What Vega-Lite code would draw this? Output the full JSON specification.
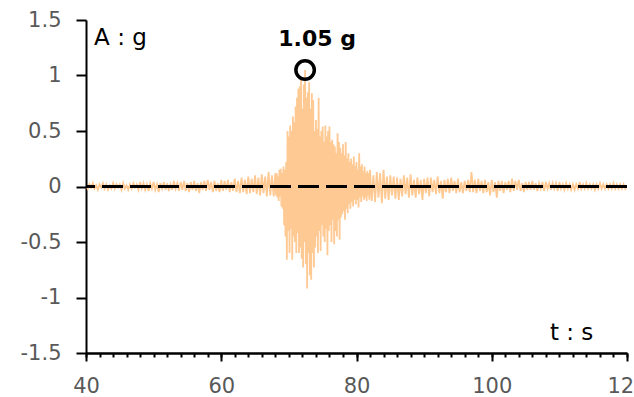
{
  "$schema": "https://vega.github.io/schema/vega-lite/v6.json",
  "width": 541,
  "height": 333,
  "autosize": {"type": "none"},
  "padding": {"left": 86, "top": 20, "right": 7, "bottom": 44},
  "background": "white",
  "config": {
    "view": {"stroke": null},
    "font": "DejaVu Sans",
    "axis": {
      "grid": false,
      "domainColor": "black",
      "domainWidth": 2,
      "tickColor": "black",
      "tickWidth": 2,
      "labelColor": "#595959",
      "labelFont": "DejaVu Sans",
      "labelFontSize": 21,
      "labelOverlap": false
    }
  },
  "resolve": {"axis": {"x": "independent"}},
  "datasets": {
    "accel": [
      {"t": 40, "a": 0.01}, {"t": 40.25, "a": -0.02}, {"t": 40.5, "a": 0.02}, {"t": 40.75, "a": -0.01},
      {"t": 41, "a": 0.03}, {"t": 41.25, "a": -0.02}, {"t": 41.5, "a": 0.01}, {"t": 41.75, "a": -0.03},
      {"t": 42, "a": 0.02}, {"t": 42.25, "a": -0.01}, {"t": 42.5, "a": 0.03}, {"t": 42.75, "a": -0.02},
      {"t": 43, "a": 0.02}, {"t": 43.25, "a": -0.03}, {"t": 43.5, "a": 0.01}, {"t": 43.75, "a": -0.02},
      {"t": 44, "a": 0.03}, {"t": 44.25, "a": -0.02}, {"t": 44.5, "a": 0.02}, {"t": 44.75, "a": -0.01},
      {"t": 45, "a": 0.02}, {"t": 45.25, "a": -0.03}, {"t": 45.5, "a": 0.03}, {"t": 45.75, "a": -0.02},
      {"t": 46, "a": 0.01}, {"t": 46.25, "a": -0.03}, {"t": 46.5, "a": 0.02}, {"t": 46.75, "a": -0.02},
      {"t": 47, "a": 0.03}, {"t": 47.25, "a": -0.01}, {"t": 47.5, "a": 0.02}, {"t": 47.75, "a": -0.03},
      {"t": 48, "a": 0.04}, {"t": 48.25, "a": -0.02}, {"t": 48.5, "a": 0.03}, {"t": 48.75, "a": -0.03},
      {"t": 49, "a": 0.02}, {"t": 49.25, "a": -0.04}, {"t": 49.5, "a": 0.03}, {"t": 49.75, "a": -0.02},
      {"t": 50, "a": 0.04}, {"t": 50.25, "a": -0.03}, {"t": 50.5, "a": 0.02}, {"t": 50.75, "a": -0.05},
      {"t": 51, "a": 0.03}, {"t": 51.25, "a": -0.02}, {"t": 51.5, "a": 0.04}, {"t": 51.75, "a": -0.03},
      {"t": 52, "a": 0.03}, {"t": 52.25, "a": -0.04}, {"t": 52.5, "a": 0.02}, {"t": 52.75, "a": -0.03},
      {"t": 53, "a": 0.05}, {"t": 53.25, "a": -0.02}, {"t": 53.5, "a": 0.03}, {"t": 53.75, "a": -0.04},
      {"t": 54, "a": 0.04}, {"t": 54.25, "a": -0.03}, {"t": 54.5, "a": 0.05}, {"t": 54.75, "a": -0.04},
      {"t": 55, "a": 0.03}, {"t": 55.25, "a": -0.05}, {"t": 55.5, "a": 0.04}, {"t": 55.75, "a": -0.03},
      {"t": 56, "a": 0.05}, {"t": 56.25, "a": -0.04}, {"t": 56.5, "a": 0.03}, {"t": 56.75, "a": -0.06},
      {"t": 57, "a": 0.04}, {"t": 57.25, "a": -0.03}, {"t": 57.5, "a": 0.05}, {"t": 57.75, "a": -0.04},
      {"t": 58, "a": 0.06}, {"t": 58.25, "a": -0.03}, {"t": 58.5, "a": 0.04}, {"t": 58.75, "a": -0.05},
      {"t": 59, "a": 0.05}, {"t": 59.25, "a": -0.04}, {"t": 59.5, "a": 0.03}, {"t": 59.75, "a": -0.05},
      {"t": 60, "a": 0.06}, {"t": 60.25, "a": -0.04}, {"t": 60.5, "a": 0.05}, {"t": 60.75, "a": -0.03},
      {"t": 61, "a": 0.06}, {"t": 61.25, "a": -0.05}, {"t": 61.5, "a": 0.04}, {"t": 61.75, "a": -0.04},
      {"t": 62, "a": 0.07}, {"t": 62.25, "a": -0.05}, {"t": 62.5, "a": 0.05}, {"t": 62.75, "a": -0.06},
      {"t": 63, "a": 0.08}, {"t": 63.25, "a": -0.05}, {"t": 63.5, "a": 0.06}, {"t": 63.75, "a": -0.07},
      {"t": 64, "a": 0.09}, {"t": 64.25, "a": -0.06}, {"t": 64.5, "a": 0.07}, {"t": 64.75, "a": -0.05},
      {"t": 65, "a": 0.1}, {"t": 65.25, "a": -0.07}, {"t": 65.5, "a": 0.08}, {"t": 65.75, "a": -0.08},
      {"t": 66, "a": 0.11}, {"t": 66.25, "a": -0.06}, {"t": 66.5, "a": 0.09}, {"t": 66.75, "a": -0.09},
      {"t": 67, "a": 0.13}, {"t": 67.25, "a": -0.08}, {"t": 67.5, "a": 0.1}, {"t": 67.75, "a": -0.09},
      {"t": 68, "a": 0.12}, {"t": 68.1, "a": -0.08}, {"t": 68.2, "a": 0.12}, {"t": 68.3, "a": -0.1},
      {"t": 68.4, "a": 0.09}, {"t": 68.5, "a": -0.13}, {"t": 68.6, "a": 0.15}, {"t": 68.7, "a": -0.09},
      {"t": 68.8, "a": 0.16}, {"t": 68.9, "a": -0.18}, {"t": 69, "a": 0.12}, {"t": 69.1, "a": -0.2},
      {"t": 69.2, "a": 0.18}, {"t": 69.3, "a": -0.35}, {"t": 69.4, "a": 0.15}, {"t": 69.5, "a": -0.45},
      {"t": 69.6, "a": 0.22}, {"t": 69.7, "a": -0.66}, {"t": 69.8, "a": 0.5}, {"t": 69.9, "a": -0.4},
      {"t": 70, "a": 0.45}, {"t": 70.1, "a": -0.6}, {"t": 70.2, "a": 0.55}, {"t": 70.3, "a": -0.38},
      {"t": 70.4, "a": 0.5}, {"t": 70.5, "a": -0.66}, {"t": 70.6, "a": 0.63}, {"t": 70.7, "a": -0.45},
      {"t": 70.8, "a": 0.58}, {"t": 70.9, "a": -0.5}, {"t": 71, "a": 0.72}, {"t": 71.1, "a": -0.6},
      {"t": 71.2, "a": 0.8}, {"t": 71.3, "a": -0.42}, {"t": 71.4, "a": 0.88}, {"t": 71.5, "a": -0.6},
      {"t": 71.6, "a": 0.9}, {"t": 71.7, "a": -0.55}, {"t": 71.8, "a": 0.96}, {"t": 71.9, "a": -0.65},
      {"t": 72, "a": 0.7}, {"t": 72.1, "a": -0.73}, {"t": 72.2, "a": 0.92}, {"t": 72.3, "a": -0.5},
      {"t": 72.4, "a": 1.05}, {"t": 72.5, "a": -0.7}, {"t": 72.6, "a": 0.8}, {"t": 72.7, "a": -0.92},
      {"t": 72.8, "a": 0.85}, {"t": 72.9, "a": -0.6}, {"t": 73, "a": 0.94}, {"t": 73.1, "a": -0.8},
      {"t": 73.2, "a": 0.7}, {"t": 73.3, "a": -0.84}, {"t": 73.4, "a": 0.84}, {"t": 73.5, "a": -0.6},
      {"t": 73.6, "a": 0.78}, {"t": 73.7, "a": -0.73}, {"t": 73.8, "a": 0.5}, {"t": 73.9, "a": -0.55},
      {"t": 74, "a": 0.6}, {"t": 74.1, "a": -0.45}, {"t": 74.2, "a": 0.52}, {"t": 74.3, "a": -0.6},
      {"t": 74.4, "a": 0.8}, {"t": 74.5, "a": -0.4}, {"t": 74.6, "a": 0.45}, {"t": 74.7, "a": -0.58},
      {"t": 74.8, "a": 0.5}, {"t": 74.9, "a": -0.35}, {"t": 75, "a": 0.54}, {"t": 75.1, "a": -0.45},
      {"t": 75.2, "a": 0.4}, {"t": 75.3, "a": -0.5}, {"t": 75.4, "a": 0.55}, {"t": 75.5, "a": -0.38},
      {"t": 75.6, "a": 0.45}, {"t": 75.7, "a": -0.62}, {"t": 75.8, "a": 0.5}, {"t": 75.9, "a": -0.4},
      {"t": 76, "a": 0.54}, {"t": 76.1, "a": -0.35}, {"t": 76.2, "a": 0.4}, {"t": 76.3, "a": -0.5},
      {"t": 76.4, "a": 0.42}, {"t": 76.5, "a": -0.3}, {"t": 76.6, "a": 0.38}, {"t": 76.7, "a": -0.52},
      {"t": 76.8, "a": 0.36}, {"t": 76.9, "a": -0.4}, {"t": 77, "a": 0.3}, {"t": 77.1, "a": -0.45},
      {"t": 77.2, "a": 0.48}, {"t": 77.3, "a": -0.3}, {"t": 77.4, "a": 0.4}, {"t": 77.5, "a": -0.48},
      {"t": 77.6, "a": 0.35}, {"t": 77.7, "a": -0.28}, {"t": 77.8, "a": 0.3}, {"t": 77.9, "a": -0.25},
      {"t": 78, "a": 0.38}, {"t": 78.1, "a": -0.22}, {"t": 78.2, "a": 0.28}, {"t": 78.3, "a": -0.3},
      {"t": 78.4, "a": 0.4}, {"t": 78.5, "a": -0.2}, {"t": 78.6, "a": 0.25}, {"t": 78.7, "a": -0.24},
      {"t": 78.8, "a": 0.3}, {"t": 78.9, "a": -0.16}, {"t": 79, "a": 0.22}, {"t": 79.1, "a": -0.2},
      {"t": 79.2, "a": 0.25}, {"t": 79.3, "a": -0.14}, {"t": 79.4, "a": 0.2}, {"t": 79.5, "a": -0.18},
      {"t": 79.6, "a": 0.27}, {"t": 79.7, "a": -0.12}, {"t": 79.8, "a": 0.18}, {"t": 79.9, "a": -0.16},
      {"t": 80, "a": 0.22}, {"t": 80.1, "a": -0.12}, {"t": 80.2, "a": 0.15}, {"t": 80.3, "a": -0.19},
      {"t": 80.4, "a": 0.3}, {"t": 80.5, "a": -0.1}, {"t": 80.6, "a": 0.18}, {"t": 80.7, "a": -0.14},
      {"t": 80.8, "a": 0.2}, {"t": 80.9, "a": -0.09}, {"t": 81, "a": 0.14}, {"t": 81.1, "a": -0.12},
      {"t": 81.2, "a": 0.18}, {"t": 81.3, "a": -0.1}, {"t": 81.4, "a": 0.12}, {"t": 81.5, "a": -0.13},
      {"t": 81.6, "a": 0.14}, {"t": 81.7, "a": -0.08}, {"t": 81.8, "a": 0.12}, {"t": 81.9, "a": -0.12},
      {"t": 82, "a": 0.15},
      {"t": 82.25, "a": -0.13}, {"t": 82.5, "a": 0.1}, {"t": 82.75, "a": -0.14}, {"t": 83, "a": 0.13},
      {"t": 83.25, "a": -0.1}, {"t": 83.5, "a": 0.12}, {"t": 83.75, "a": -0.15}, {"t": 84, "a": 0.15},
      {"t": 84.25, "a": -0.11}, {"t": 84.5, "a": 0.09}, {"t": 84.75, "a": -0.12}, {"t": 85, "a": 0.1},
      {"t": 85.25, "a": -0.08}, {"t": 85.5, "a": 0.09}, {"t": 85.75, "a": -0.11}, {"t": 86, "a": 0.08},
      {"t": 86.25, "a": -0.12}, {"t": 86.5, "a": 0.07}, {"t": 86.75, "a": -0.09}, {"t": 87, "a": 0.1},
      {"t": 87.25, "a": -0.07}, {"t": 87.5, "a": 0.08}, {"t": 87.75, "a": -0.1}, {"t": 88, "a": 0.11},
      {"t": 88.25, "a": -0.08}, {"t": 88.5, "a": 0.06}, {"t": 88.75, "a": -0.1}, {"t": 89, "a": 0.08},
      {"t": 89.25, "a": -0.07}, {"t": 89.5, "a": 0.06}, {"t": 89.75, "a": -0.12}, {"t": 90, "a": 0.07},
      {"t": 90.25, "a": -0.06}, {"t": 90.5, "a": 0.08}, {"t": 90.75, "a": -0.09}, {"t": 91, "a": 0.08},
      {"t": 91.25, "a": -0.05}, {"t": 91.5, "a": 0.06}, {"t": 91.75, "a": -0.07}, {"t": 92, "a": 0.09},
      {"t": 92.25, "a": -0.06}, {"t": 92.5, "a": 0.05}, {"t": 92.75, "a": -0.11}, {"t": 93, "a": 0.06},
      {"t": 93.25, "a": -0.05}, {"t": 93.5, "a": 0.07}, {"t": 93.75, "a": -0.06}, {"t": 94, "a": 0.08},
      {"t": 94.25, "a": -0.04}, {"t": 94.5, "a": 0.05}, {"t": 94.75, "a": -0.06}, {"t": 95, "a": 0.07},
      {"t": 95.25, "a": -0.05}, {"t": 95.5, "a": 0.04}, {"t": 95.75, "a": -0.06}, {"t": 96, "a": 0.05},
      {"t": 96.25, "a": -0.04}, {"t": 96.5, "a": 0.06}, {"t": 96.75, "a": -0.05}, {"t": 97, "a": 0.13},
      {"t": 97.25, "a": -0.05}, {"t": 97.5, "a": 0.06}, {"t": 97.75, "a": -0.06}, {"t": 98, "a": 0.07},
      {"t": 98.25, "a": -0.04}, {"t": 98.5, "a": 0.05}, {"t": 98.75, "a": -0.06}, {"t": 99, "a": 0.06},
      {"t": 99.25, "a": -0.05}, {"t": 99.5, "a": 0.04}, {"t": 99.75, "a": -0.08}, {"t": 100, "a": 0.06},
      {"t": 100.25, "a": -0.05}, {"t": 100.5, "a": 0.04}, {"t": 100.75, "a": -0.1}, {"t": 101, "a": 0.05},
      {"t": 101.25, "a": -0.04}, {"t": 101.5, "a": 0.05}, {"t": 101.75, "a": -0.06}, {"t": 102, "a": 0.04},
      {"t": 102.25, "a": -0.03}, {"t": 102.5, "a": 0.05}, {"t": 102.75, "a": -0.05}, {"t": 103, "a": 0.07},
      {"t": 103.25, "a": -0.04}, {"t": 103.5, "a": 0.05}, {"t": 103.75, "a": -0.03}, {"t": 104, "a": 0.06},
      {"t": 104.25, "a": -0.04}, {"t": 104.5, "a": 0.03}, {"t": 104.75, "a": -0.05}, {"t": 105, "a": 0.04},
      {"t": 105.25, "a": -0.03}, {"t": 105.5, "a": 0.04}, {"t": 105.75, "a": -0.03}, {"t": 106, "a": 0.05},
      {"t": 106.25, "a": -0.03}, {"t": 106.5, "a": 0.03}, {"t": 106.75, "a": -0.04}, {"t": 107, "a": 0.03},
      {"t": 107.25, "a": -0.02}, {"t": 107.5, "a": 0.04}, {"t": 107.75, "a": -0.04}, {"t": 108, "a": 0.04},
      {"t": 108.25, "a": -0.02}, {"t": 108.5, "a": 0.03}, {"t": 108.75, "a": -0.03}, {"t": 109, "a": 0.03},
      {"t": 109.25, "a": -0.02}, {"t": 109.5, "a": 0.03}, {"t": 109.75, "a": -0.04}, {"t": 110, "a": 0.04},
      {"t": 110.25, "a": -0.02}, {"t": 110.5, "a": 0.02}, {"t": 110.75, "a": -0.03}, {"t": 111, "a": 0.03},
      {"t": 111.25, "a": -0.02}, {"t": 111.5, "a": 0.02}, {"t": 111.75, "a": -0.03}, {"t": 112, "a": 0.02},
      {"t": 112.25, "a": -0.03}, {"t": 112.5, "a": 0.02}, {"t": 112.75, "a": -0.02}, {"t": 113, "a": 0.04},
      {"t": 113.25, "a": -0.02}, {"t": 113.5, "a": 0.02}, {"t": 113.75, "a": -0.02}, {"t": 114, "a": 0.03},
      {"t": 114.25, "a": -0.02}, {"t": 114.5, "a": 0.02}, {"t": 114.75, "a": -0.02}, {"t": 115, "a": 0.02},
      {"t": 115.25, "a": -0.03}, {"t": 115.5, "a": 0.02}, {"t": 115.75, "a": -0.02}, {"t": 116, "a": 0.03},
      {"t": 116.25, "a": -0.02}, {"t": 116.5, "a": 0.02}, {"t": 116.75, "a": -0.02}, {"t": 117, "a": 0.02},
      {"t": 117.25, "a": -0.02}, {"t": 117.5, "a": 0.02}, {"t": 117.75, "a": -0.02}, {"t": 118, "a": 0.03},
      {"t": 118.25, "a": -0.02}, {"t": 118.5, "a": 0.02}, {"t": 118.75, "a": -0.02}, {"t": 119, "a": 0.02},
      {"t": 119.25, "a": -0.02}, {"t": 119.5, "a": 0.02}, {"t": 119.75, "a": -0.02}, {"t": 120, "a": 0.01}
    ],
    "peak": [{"t": 72.4, "a": 1.05, "label": "1.05 g"}],
    "units": [
      {"t": 41.2, "a": 1.34, "label": "A : g"},
      {"t": 108.6, "a": -1.32, "label": "t : s"}
    ]
  },
  "layer": [
    {
      "data": {"name": "accel"},
      "mark": {"type": "line", "color": "#FFC993", "strokeWidth": 1.8, "clip": true},
      "encoding": {
        "x": {
          "field": "t", "type": "quantitative", "title": null,
          "scale": {"domain": [40, 120], "nice": false, "zero": false},
          "axis": {
            "orient": "bottom",
            "values": [40, 60, 80, 100, 120],
            "labelExpr": "'' + datum.value",
            "tickSize": 8,
            "labelPadding": 14,
            "labelFlush": false,
            "labelOverlap": false
          }
        },
        "y": {
          "field": "a", "type": "quantitative", "title": null,
          "scale": {"domain": [-1.5, 1.5], "nice": false, "zero": false},
          "axis": {
            "values": [-1.5, -1, -0.5, 0, 0.5, 1, 1.5],
            "labelExpr": "'' + datum.value",
            "tickSize": 10,
            "labelPadding": 15,
            "labelOverlap": false
          }
        }
      }
    },
    {
      "data": {"values": [{"z": 0}]},
      "mark": {"type": "rule", "color": "black", "strokeWidth": 3, "strokeDash": [21, 7]},
      "encoding": {"y": {"field": "z", "type": "quantitative", "title": null}}
    },
    {
      "data": {"name": "peak"},
      "mark": {"type": "point", "shape": "circle", "filled": false, "size": 340, "strokeWidth": 3.5, "color": "black", "opacity": 1},
      "encoding": {
        "x": {
          "field": "t", "type": "quantitative", "title": null,
          "axis": {
            "orient": "bottom",
            "values": [40,42,44,46,48,50,52,54,56,58,60,62,64,66,68,70,72,74,76,78,80,82,84,86,88,90,92,94,96,98,100,102,104,106,108,110,112,114,116,118,120],
            "labels": false,
            "tickSize": 4,
            "offset": 0
          }
        },
        "y": {"field": "a", "type": "quantitative", "title": null}
      }
    },
    {
      "data": {"name": "peak"},
      "mark": {"type": "text", "fontWeight": "bold", "fontSize": 22, "font": "DejaVu Sans", "color": "black", "dx": 12, "dy": -31, "baseline": "middle"},
      "encoding": {
        "x": {"field": "t", "type": "quantitative", "title": null, "axis": null},
        "y": {"field": "a", "type": "quantitative", "title": null},
        "text": {"field": "label"}
      }
    },
    {
      "data": {"name": "units"},
      "mark": {"type": "text", "fontSize": 23, "font": "DejaVu Sans", "color": "black", "align": "left", "baseline": "middle"},
      "encoding": {
        "x": {"field": "t", "type": "quantitative", "title": null, "axis": null},
        "y": {"field": "a", "type": "quantitative", "title": null},
        "text": {"field": "label"}
      }
    }
  ]
}
